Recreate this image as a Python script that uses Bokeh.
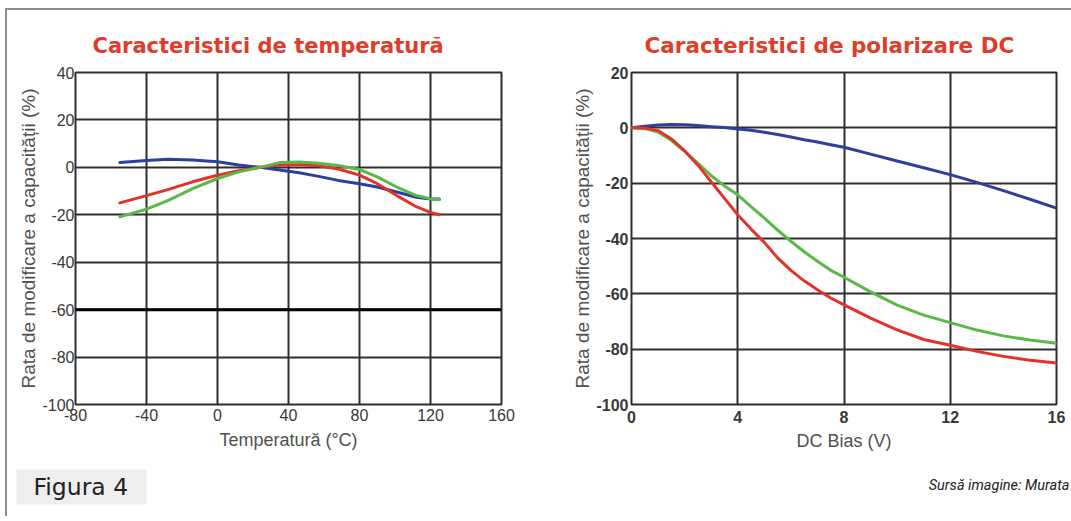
from bokeh.plotting import figure
from bokeh.models import Range1d, FixedTicker, Span
from bokeh.layouts import column, row
from bokeh.core.properties import value
from bokeh.embed import file_html
from bokeh.resources import INLINE

# ---- Data: temperature characteristics ----
temp_c = [-55, -40, -28, -14, 0, 12, 24, 35, 46, 57, 68, 80, 90, 101, 112, 120, 125]
temp_blue = [2.0, 2.9, 3.4, 3.1, 2.4, 1.0, 0, -1.1, -2.3, -3.8, -5.5, -6.9, -8.3, -10.4, -12.6, -13.3, -13.3]
temp_red = [-15.0, -11.9, -9.4, -6.1, -3.3, -1.4, 0, 1.0, 1.2, 0.7, -0.7, -3.3, -6.9, -11.9, -16.6, -19.0, -20.0]
temp_green = [-20.9, -17.6, -14.0, -9.0, -4.7, -1.9, 0, 2.0, 2.3, 1.7, 0.8, -0.9, -4.0, -8.3, -11.9, -13.3, -13.6]

temp_xticks = [-80, -40, 0, 40, 80, 120, 160]
temp_yticks = [-100, -80, -60, -40, -20, 0, 20, 40]

# ---- Data: DC bias characteristics ----
bias_v = [0, 0.5, 1, 1.5, 2, 2.5, 3, 3.5, 4, 4.5, 5, 5.5, 6, 6.5, 7, 7.5, 8, 9, 10, 11, 12, 13, 14, 15, 16]
bias_blue = [0, 0.6, 1.0, 1.2, 1.1, 0.8, 0.4, 0.1, -0.4, -0.9, -1.6, -2.4, -3.3, -4.3, -5.1, -6.1, -7.0,
             -9.5, -12.0, -14.4, -16.9, -19.7, -22.7, -25.8, -29.0]
bias_red = [0, -0.1, -1.0, -4.0, -8.3, -13.5, -19.5, -25.5, -31.4, -36.6, -41.4, -47.0, -51.5, -55.3, -58.5,
            -61.5, -64.0, -68.8, -73.0, -76.5, -78.6, -80.8, -82.6, -84.0, -85.0]
bias_green = [0, -0.3, -1.5, -4.5, -8.5, -12.8, -17.3, -21.0, -24.2, -28.5, -32.6, -37.0, -41.0, -44.8, -48.2,
              -51.5, -54.0, -59.3, -64.1, -67.7, -70.4, -73.1, -75.2, -76.7, -77.9]

bias_xticks = [0, 4, 8, 12, 16]
bias_yticks = [-100, -80, -60, -40, -20, 0, 20]

BLUE = "#2c3e9e"
RED = "#e4312b"
GREEN = "#5ab946"
TITLE_RED = "#e23b2b"
GRID = "#2e2e2e"

Y_TITLE = "Rata de modificare a capacității (%)"


def style(p, xticks, yticks, bold, xstand, xlstand, ystand, ylstand):
    p.title.text_font = "DejaVu Sans"
    p.title.text_font_size = "21px"
    p.title.text_font_style = "bold"
    p.title.text_color = TITLE_RED
    p.title.align = "left"
    p.title.standoff = 29
    p.outline_line_color = GRID
    p.outline_line_width = 2
    p.background_fill_color = "white"
    p.border_fill_color = "white"
    p.xaxis.ticker = FixedTicker(ticks=xticks)
    p.yaxis.ticker = FixedTicker(ticks=yticks)
    p.xaxis.major_label_overrides = {t: str(t) for t in xticks}
    p.yaxis.major_label_overrides = {t: str(t) for t in yticks}
    for g in (p.xgrid, p.ygrid):
        g.grid_line_color = GRID
        g.grid_line_width = 2
        g.grid_line_alpha = 1.0
    for ax in (p.xaxis, p.yaxis):
        ax.axis_line_color = None
        ax.major_tick_line_color = None
        ax.minor_tick_line_color = None
        ax.major_tick_out = 0
        ax.major_tick_in = 0
        ax.major_label_text_font = "Liberation Sans"
        ax.major_label_text_font_size = "16px"
        ax.major_label_text_color = "#383838"
        ax.major_label_text_font_style = "bold" if bold else "normal"
        ax.axis_label_text_font = "Liberation Sans"
        ax.axis_label_text_font_style = "normal"
        ax.axis_label_text_color = "#505050"
    p.xaxis.axis_label_text_font_size = "18px"
    p.yaxis.axis_label_text_font_size = "19px"
    p.xaxis.major_label_standoff = xstand
    p.xaxis.axis_label_standoff = xlstand
    p.yaxis.major_label_standoff = ystand
    p.yaxis.axis_label_standoff = ylstand


# ---- Left plot ----
p1 = figure(width=533, height=450, title="Caracteristici de temperatură",
            x_range=Range1d(-80, 160), y_range=Range1d(-100, 40),
            x_axis_label="Temperatură (°C)", y_axis_label=Y_TITLE,
            min_border_left=68, min_border_right=39, min_border_top=62, min_border_bottom=56,
            toolbar_location=None, output_backend="svg")
style(p1, temp_xticks, temp_yticks, False, 4, 6, 1, 0)
p1.title.offset = 17
p1.add_layout(Span(location=-60, dimension="width", line_color="black", line_width=3))
p1.line(temp_c, temp_blue, line_color=BLUE, line_width=3, line_join="round", line_cap="round")
p1.line(temp_c, temp_red, line_color=RED, line_width=3, line_join="round", line_cap="round")
p1.line(temp_c, temp_green, line_color=GREEN, line_width=3, line_join="round", line_cap="round")

# ---- Right plot ----
p2 = figure(width=531, height=450, title="Caracteristici de polarizare DC",
            x_range=Range1d(0, 16), y_range=Range1d(-100, 20),
            x_axis_label="DC Bias (V)", y_axis_label=Y_TITLE,
            min_border_left=91, min_border_right=15, min_border_top=61, min_border_bottom=54,
            toolbar_location=None, output_backend="svg")
style(p2, bias_xticks, bias_yticks, True, 6, 5, 3, 0)
p2.title.offset = 13
p2.title.text_font_size = "21.5px"
p2.line(bias_v, bias_blue, line_color=BLUE, line_width=3, line_join="round", line_cap="round")
p2.line(bias_v, bias_green, line_color=GREEN, line_width=3, line_join="round", line_cap="round")
p2.line(bias_v, bias_red, line_color=RED, line_width=3, line_join="round", line_cap="round")

# ---- Footer ----
p3 = figure(width=1064, height=56, x_range=Range1d(0, 1064), y_range=Range1d(56, 0),
            min_border=0, toolbar_location=None, output_backend="svg")
p3.axis.visible = False
p3.grid.visible = False
p3.outline_line_color = None
p3.quad(left=9, right=139, top=9, bottom=44, fill_color="#eeeeee", line_color=None)
p3.text(x=[26], y=[26], text=["Figura 4"], text_font=value("DejaVu Sans"), text_font_size="23.5px",
        text_color="#222222", text_baseline="alphabetic", text_align="left")
p3.text(x=[1062], y=[25], text=["Sursă imagine: Murata"],
        text_font=value("Roboto"),
        text_font_size="14.5px", text_font_style="italic", text_color="#222222",
        text_baseline="alphabetic", text_align="right")

layout = column(row(p1, p2), p3, margin=(8, 0, 0, 5),
                styles={"border-top": "2px solid #8c8c8c", "border-left": "2px solid #8c8c8c"})

open("out.html", "w").write(file_html(layout, INLINE))
